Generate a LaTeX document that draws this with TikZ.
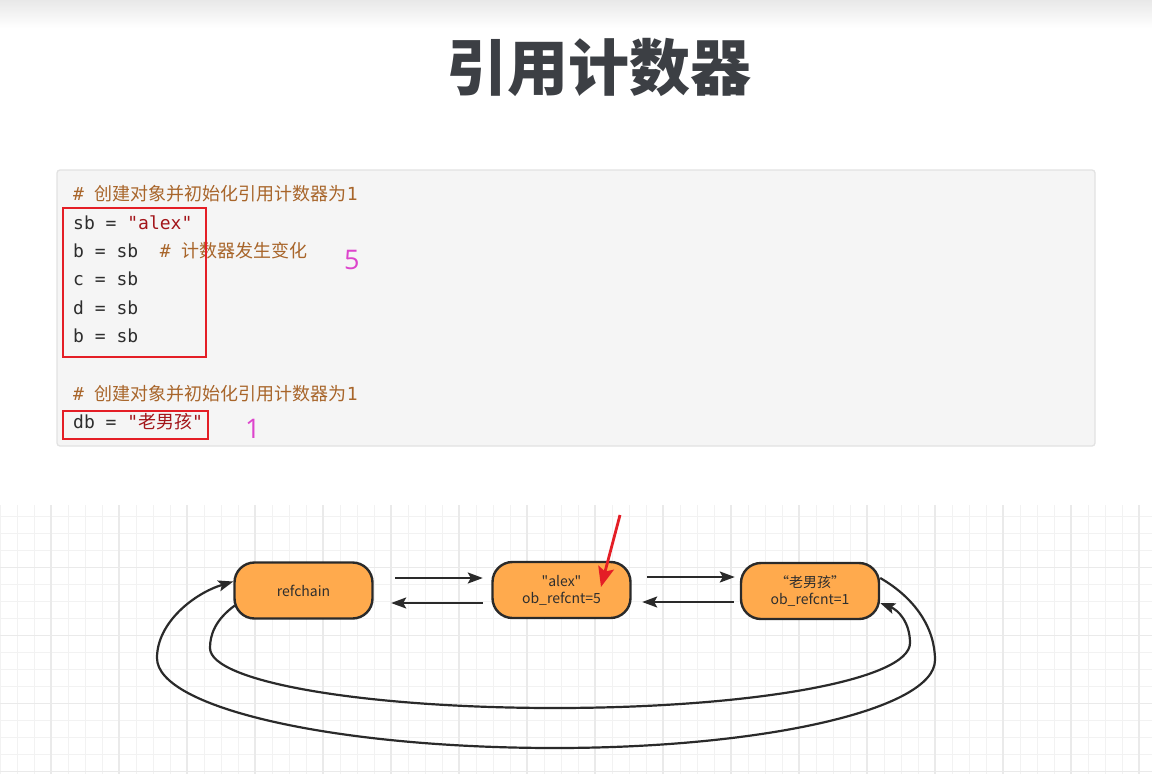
\documentclass[tikz,border=0pt]{standalone}
\usepackage{fontspec}
\usepackage{xcolor}
\usepackage{tikz}
\usetikzlibrary{arrows.meta,positioning,calc}

\newfontfamily\cjkfont{Noto Sans CJK SC}
\newfontfamily\codefont{DejaVu Sans Mono}
\newfontfamily\numfont{Open Sans}

\definecolor{titlegray}{HTML}{3C3F44}
\definecolor{codebg}{HTML}{F5F5F5}
\definecolor{codeedge}{HTML}{E2E2E2}
\definecolor{codegray}{HTML}{2E2E2E}
\definecolor{cmtbrown}{HTML}{A8652A}
\definecolor{strred}{HTML}{A3151A}
\definecolor{markred}{HTML}{E41E26}
\definecolor{countpink}{HTML}{DD44CC}
\definecolor{objorange}{HTML}{FFAA4D}
\definecolor{objedge}{HTML}{2A2A2A}
\definecolor{gridminor}{HTML}{F2F2F2}
\definecolor{gridmajor}{HTML}{EAEAEA}

\begin{document}
\begin{tikzpicture}[
  x=1pt, y=-1pt,
  >=Stealth,
  titlestyle/.style={inner sep=0, text=titlegray,
                     font=\cjkfont\bfseries\fontsize{61}{64}\selectfont},
  codeline/.style={anchor=base west, inner sep=0, text=codegray,
                   font=\codefont\fontsize{18}{20}\selectfont},
  cmtline/.style={codeline, text=cmtbrown},
  markbox/.style={draw=markred, line width=2.6pt},
  countnum/.style={anchor=base west, inner sep=0, text=countpink,
                   font=\numfont\fontsize{27}{30}\selectfont},
  obj/.style={draw=objedge, line width=2.4pt, fill=objorange, rounded corners=20pt,
              minimum width=138pt, minimum height=56pt, inner sep=0, align=center,
              text=codegray, font=\cjkfont\fontsize{14}{17}\selectfont},
  arr/.style={-{Stealth[length=15pt,width=11pt,inset=3pt]}, line width=2.2pt, draw=objedge},
  ptrarr/.style={-{Stealth[length=20pt,width=16pt,inset=4pt]}, line width=2.8pt, draw=markred},
  gridline/.style={draw=gridminor, line width=1pt},
  gridbold/.style={draw=gridmajor, line width=1.2pt},
]
% page and top band
\fill[white] (0,0) rectangle (1152,774);
\useasboundingbox (0,0) rectangle (1152,774);
\shade[top color=black!9, bottom color=white] (0,0) rectangle (1152,28);

% title
\node[titlestyle] (title) at (599,67) {引用计数器};

% code panel
\draw[fill=codebg, draw=codeedge, line width=1.3pt, rounded corners=3pt]
  (57,170) rectangle (1095,446);
\node[cmtline] (cm1) at (73,200) {\# {\cjkfont 创建对象并初始化引用计数器为}1};
\node[codeline] (l1) at (73,229) {sb = {\color{strred}"alex"}};
\node[codeline] (l2) at (73,257.3) {b = sb\ \ {\color{cmtbrown}\# {\cjkfont 计数器发生变化}}};
\node[codeline] (l3) at (73,285.7) {c = sb};
\node[codeline] (l4) at (73,314) {d = sb};
\node[codeline] (l5) at (73,342.3) {b = sb};
\node[cmtline] (cm2) at (73,400) {\# {\cjkfont 创建对象并初始化引用计数器为}1};
\node[codeline] (l6) at (73,428.3) {db = {\color{strred}"{\cjkfont 老男孩}"}};

% red marks and counts
\draw[markbox] (63,208) rectangle (206,357);
\draw[markbox] (63,411) rectangle (208,439);
\node[countnum] (n5) at (344,269.3) {5};
\node[countnum] (n1) at (245,438) {1};

% grid background
\foreach \gx in {0,17,...,1152} \draw[gridline] (\gx,505) -- (\gx,774);
\foreach \gy in {516.7,533.7,...,774} \draw[gridline] (0,\gy) -- (1152,\gy);
\foreach \gx in {51,119,...,1152} \draw[gridbold] (\gx,505) -- (\gx,774);
\foreach \gy in {567.7,635.7,703.7,771.7} \draw[gridbold] (0,\gy) -- (1152,\gy);

% objects in the refchain
\node[obj] (refchain) at (303.5,590.5) {refchain};
\node[obj] (alex) at (561.5,590) {"alex"\\ob\_refcnt=5};
\node[obj] (old) at (810,591) {“老男孩”\\ob\_refcnt=1};

\draw[arr] ([xshift=21.5,yshift=12.5]refchain.east) -- ([xshift=-8.5,yshift=12]alex.west);
\draw[arr] ([xshift=-8.5,yshift=-13]alex.west) -- ([xshift=17.5,yshift=-12.5]refchain.east);
\draw[arr] ([xshift=15.5,yshift=13]alex.east) -- ([xshift=-5,yshift=14]old.west);
\draw[arr] ([xshift=-6,yshift=-11]old.west) -- ([xshift=10.5,yshift=-12]alex.east);

% loop back round
\draw[arr] ([yshift=13]old.east)
  .. controls (915,598) and (935,628) .. (935,660)
  .. controls (935,709) and (765,748) .. (555,748)
  .. controls (335,748) and (157,708) .. (157,658)
  .. controls (157,622) and (195,593) .. ([yshift=9]refchain.west);
\draw[arr] ([xshift=1.5,yshift=-15]refchain.west)
  .. controls (215,620) and (210,635) .. (210,648)
  .. controls (210,682) and (365,708) .. (555,708)
  .. controls (752,708) and (910,680) .. (910,643)
  .. controls (910,622) and (898,610) .. ([yshift=-12]old.east);

% pointer
\coordinate (ptr) at (620,515);
\draw[ptrarr] (ptr) -- ([xshift=39.5,yshift=3]alex.center);
\end{tikzpicture}
\end{document}
